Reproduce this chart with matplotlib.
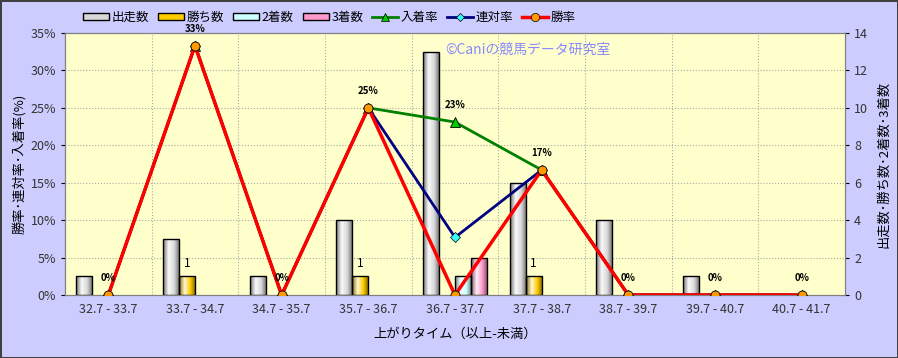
import matplotlib.pyplot as plt
import numpy as np
from matplotlib.colors import LinearSegmentedColormap, to_rgb
from matplotlib.patches import Rectangle
from matplotlib.lines import Line2D

plt.rcParams['font.family'] = ['Noto Sans CJK JP', 'DejaVu Sans']

categories = ['32.7 - 33.7', '33.7 - 34.7', '34.7 - 35.7', '35.7 - 36.7', '36.7 - 37.7',
              '37.7 - 38.7', '38.7 - 39.7', '39.7 - 40.7', '40.7 - 41.7']
runs = [1, 3, 1, 4, 13, 6, 4, 1, 0]
wins = [0, 1, 0, 1, 0, 1, 0, 0, 0]
seconds = [0, 0, 0, 0, 1, 0, 0, 0, 0]
thirds = [0, 0, 0, 0, 2, 0, 0, 0, 0]
win_rate = [0, 33.3, 0, 25.0, 0, 16.7, 0, 0, 0]
top2_rate = [0, 33.3, 0, 25.0, 7.7, 16.7, 0, 0, 0]
top3_rate = [0, 33.3, 0, 25.0, 23.1, 16.7, 0, 0, 0]

bar_series = [('出走数', runs, '#d8d8d8'), ('勝ち数', wins, '#ffcc00'),
              ('2着数', seconds, '#ccffff'), ('3着数', thirds, '#ff99cc')]

def grad_cmap(c):
    c = np.array(to_rgb(c))
    dark = c * 0.55
    light = c + (1 - c) * 0.85
    return LinearSegmentedColormap.from_list('g', [dark, light, c, dark * 0.9])

fig = plt.figure(figsize=(8.98, 3.58), dpi=100)
fig.patch.set_facecolor('#ccccff')
fig.patch.set_edgecolor('#404040')
fig.patch.set_linewidth(2)

ax = fig.add_axes([65/898, 1-295/358, 780/898, 262/358])
ax2 = ax.twinx()
ax.set_zorder(ax2.get_zorder() + 1)
ax.patch.set_visible(False)
ax2.patch.set_visible(True)
ax2.patch.set_facecolor('#ffffcc')

x = np.arange(len(categories))
w = 0.185
offs = [-1.5*w, -0.5*w, 0.5*w, 1.5*w]

# grid (behind bars)
for b in np.arange(0.5, len(categories) - 1, 1):
    ax2.axvline(b, color='#aaaaaa', linestyle=':', linewidth=0.8, zorder=1)
for t in range(2, 14, 2):
    ax2.axhline(t, color='#aaaaaa', linestyle=':', linewidth=0.8, zorder=1)

grad = np.linspace(0, 1, 64).reshape(1, -1)
for (name, vals, col), off in zip(bar_series, offs):
    bars = ax2.bar(x + off, vals, w, color=col, edgecolor='black', linewidth=1, zorder=3)
    cm = grad_cmap(col)
    for b, v in zip(bars, vals):
        if v <= 0:
            b.set_visible(False)
            continue
        im = ax2.imshow(grad, cmap=cm, aspect='auto', zorder=3,
                        extent=[b.get_x(), b.get_x() + b.get_width(), 0, v])
        im.set_clip_path(b)
        b.set_facecolor('none')
        b.set_zorder(4)

for i, v in enumerate(wins):
    if v > 0:
        ax2.text(x[i] + offs[1], v + 0.35, str(v), ha='center', va='bottom', fontsize=8.5, zorder=5)

ax2.set_ylim(0, 14)
ax2.set_yticks(range(0, 15, 2))
ax2.set_xlim(-0.5, len(categories) - 0.5)
ax2.tick_params(axis='y', labelsize=9, labelcolor='#333333', length=3)
ax2.set_ylabel('出走数･勝ち数･2着数･3着数', fontsize=9.5, rotation=90, labelpad=7)

ax.plot(x, top3_rate, color='#008000', lw=2, marker='^', ms=7, mfc='#00cc00', mec='black', mew=0.6, zorder=5)
ax.plot(x, top2_rate, color='#000080', lw=2, marker='D', ms=5, mfc='#33ffff', mec='black', mew=0.5, zorder=6)
ax.plot(x, win_rate, color='#ff0000', lw=2.5, marker='o', ms=6.5, mfc='#ff9900', mec='black', mew=0.6, zorder=7)
for i, v in enumerate(top3_rate):
    ax.text(x[i], v + 1.6, '%d%%' % round(v), ha='center', va='bottom', fontsize=7,
            fontweight='bold', zorder=8)

ax.set_ylim(0, 35)
ax.set_yticks(range(0, 36, 5))
ax.set_yticklabels(['%d%%' % t for t in range(0, 36, 5)])
ax.set_xlim(-0.5, len(categories) - 0.5)
ax.set_xticks(x)
ax.set_xticklabels(categories)
ax.tick_params(axis='y', labelsize=9, labelcolor='#333333', length=3)
ax.tick_params(axis='x', labelsize=9, labelcolor='#333333', length=0, pad=6)
ax.set_ylabel('勝率･連対率･入着率(%)', fontsize=9.5, labelpad=3)
ax.set_xlabel('上がりタイム（以上-未満）', fontsize=9.5, labelpad=8)
for a in (ax, ax2):
    for s in a.spines.values():
        s.set_color('#808080')

ax.text(0.487, 0.935, '©Caniの競馬データ研究室', transform=ax.transAxes, fontsize=10,
        color='#8888ff', ha='left', va='center', zorder=9)

handles = [Rectangle((0, 0), 1, 1, facecolor=c, edgecolor='black', linewidth=1) for _, _, c in bar_series]
handles += [
    Line2D([], [], color='#008000', lw=2, marker='^', ms=6, mfc='#00cc00', mec='black', mew=0.5),
    Line2D([], [], color='#000080', lw=2, marker='D', ms=4.5, mfc='#33ffff', mec='black', mew=0.5),
    Line2D([], [], color='#ff0000', lw=2.5, marker='o', ms=6, mfc='#ff9900', mec='black', mew=0.5),
]
labels = [n for n, _, _ in bar_series] + ['入着率', '連対率', '勝率']
fig.legend(handles, labels, loc='center left', bbox_to_anchor=(78/898, 1-17/358), ncol=7,
           frameon=False, fontsize=9, handlelength=2.1, handleheight=0.5, handletextpad=0.2,
           columnspacing=0.7, borderaxespad=0)

fig.savefig('out.png', dpi=100, facecolor=fig.get_facecolor(), edgecolor=fig.get_edgecolor())
